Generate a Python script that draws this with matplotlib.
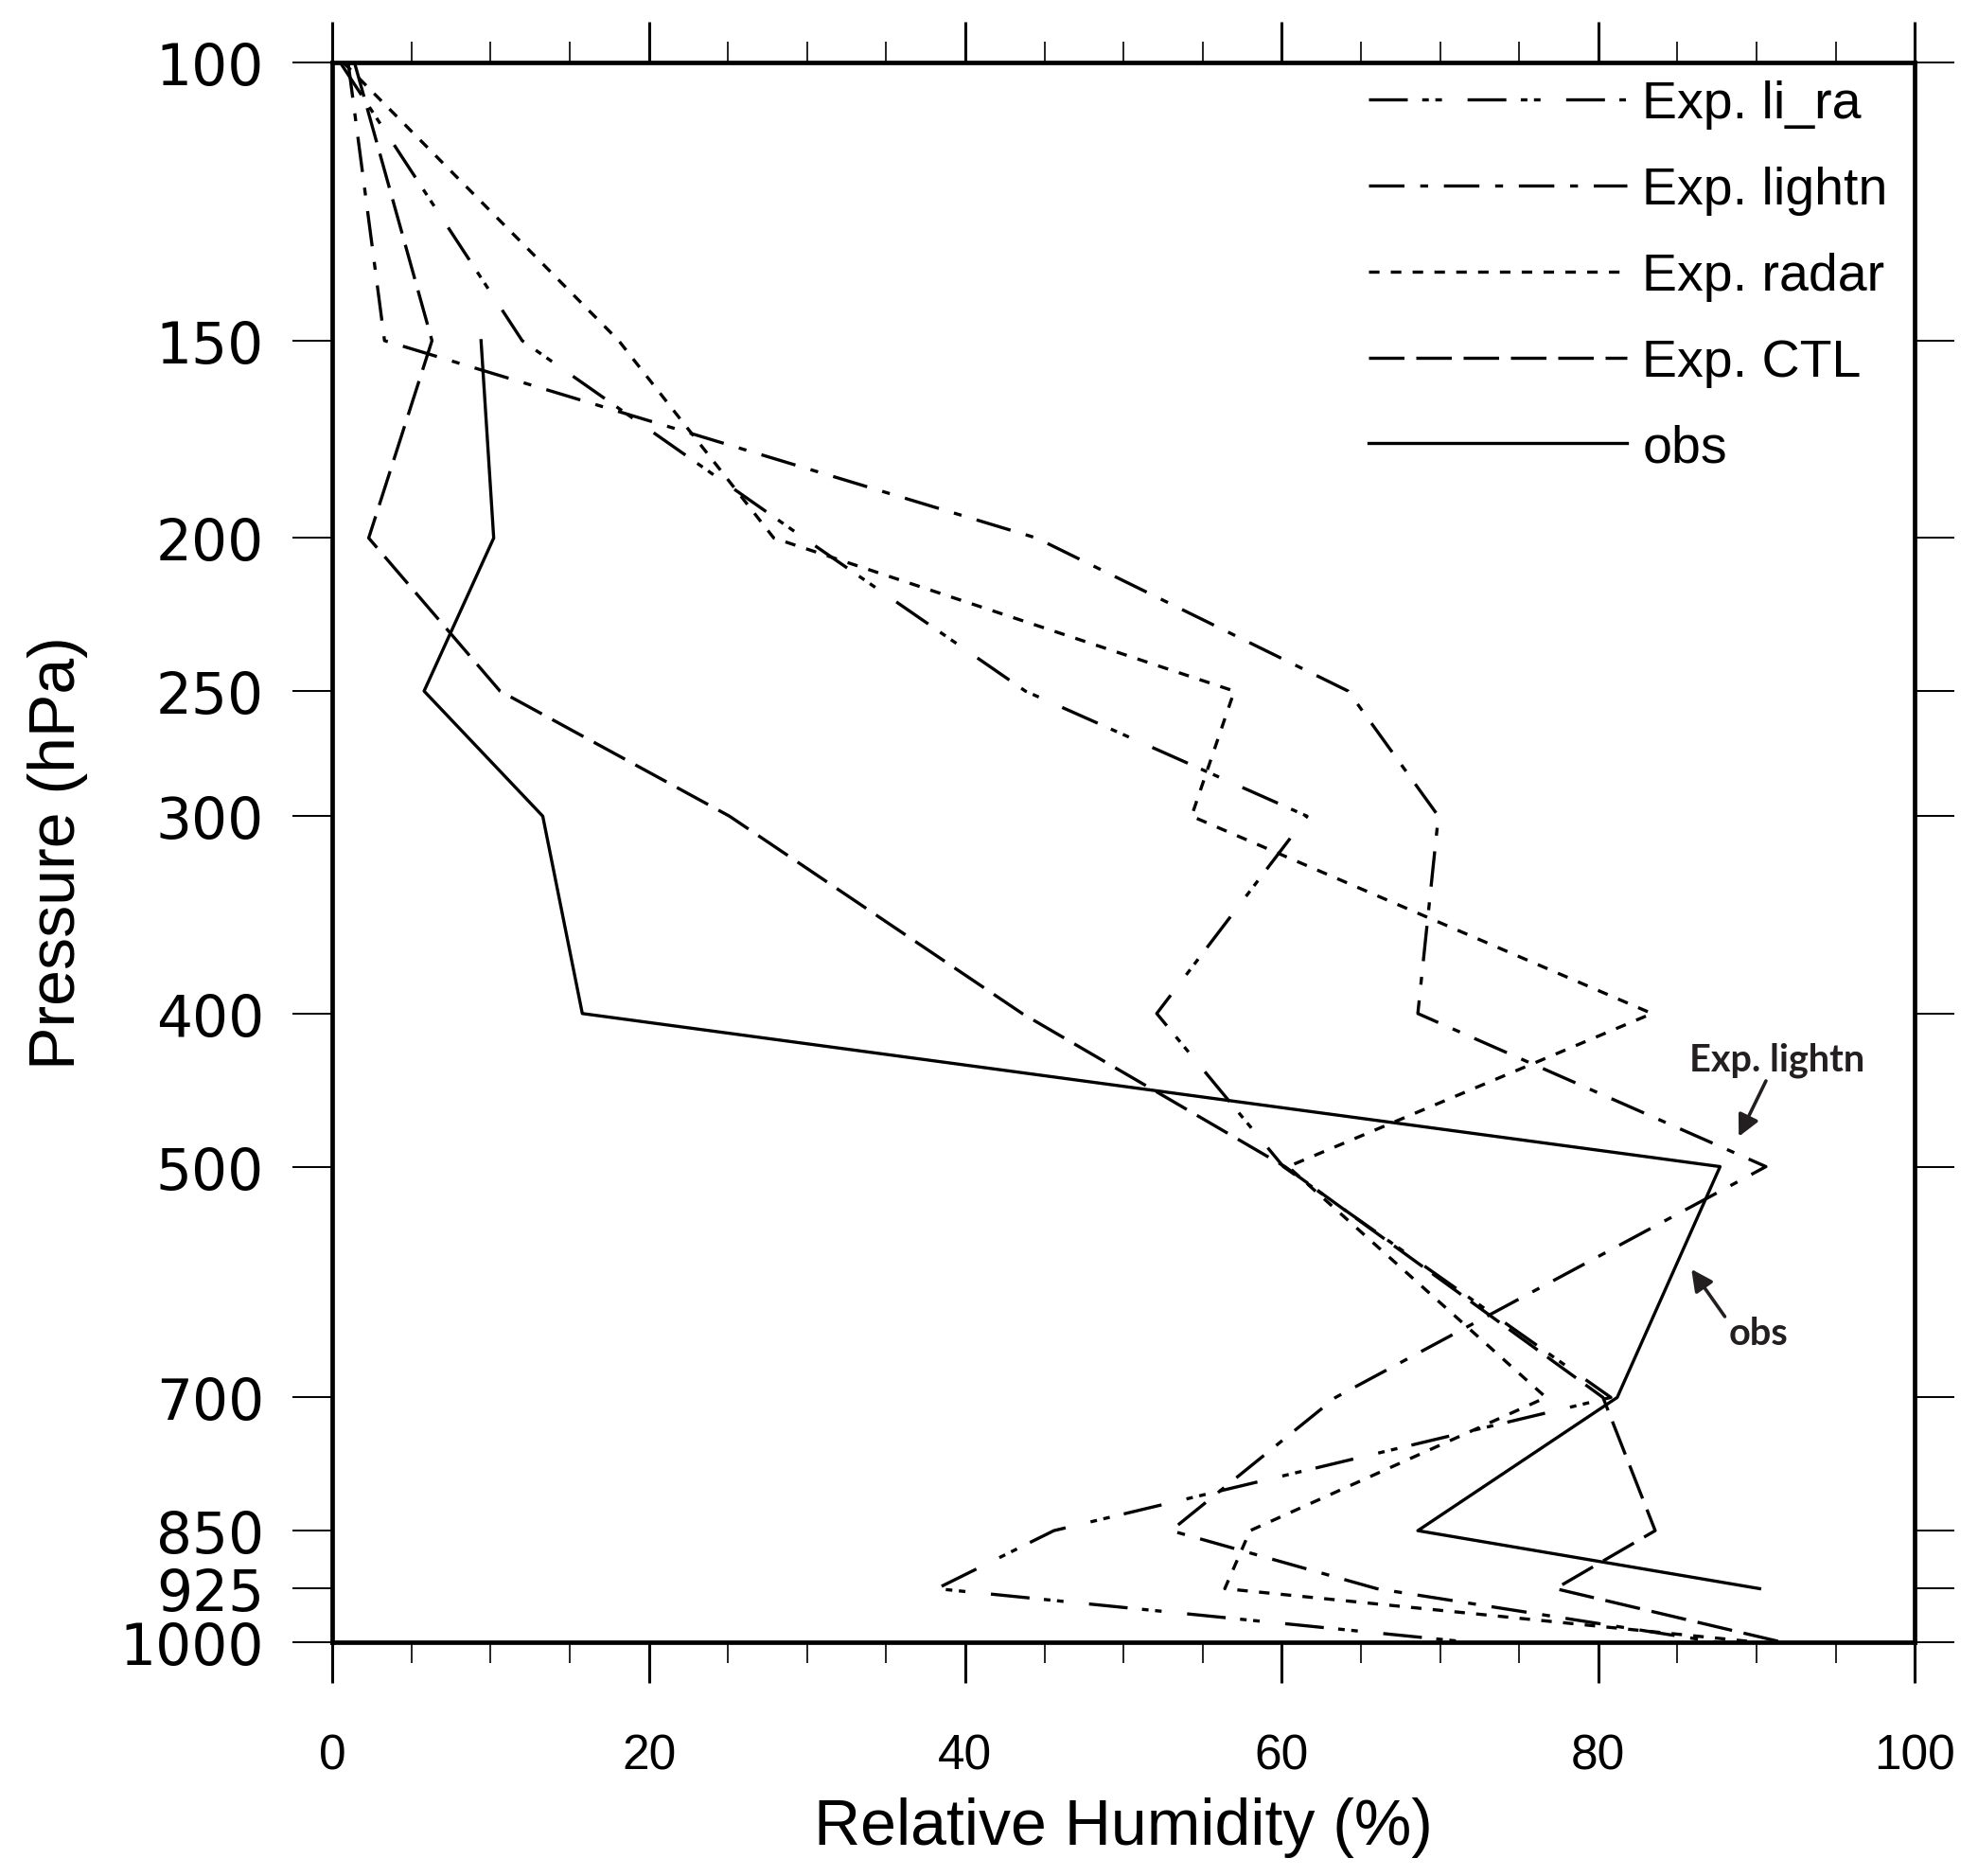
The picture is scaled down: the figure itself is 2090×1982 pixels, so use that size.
import matplotlib
matplotlib.use("Agg")
import matplotlib.pyplot as plt
from matplotlib.ticker import FixedLocator, MultipleLocator, NullLocator

# ---------------- data ----------------
levels = [100, 150, 200, 250, 300, 400, 500, 700, 850, 925, 1000]
obs_levels = [150, 200, 250, 300, 400, 500, 700, 850, 925]

rh_li_ra = [0.5, 12.0, 29.8, 43.8, 61.6, 52.1, 60.1, 80.8, 45.6, 38.2, 71.8]
rh_lightn = [1.0, 3.3, 44.5, 64.2, 69.9, 68.6, 90.6, 63.4, 53.0, 66.0, 87.5]
rh_radar = [0.7, 18.1, 27.9, 57.0, 54.3, 83.4, 60.4, 76.7, 58.0, 56.4, 90.0]
rh_ctl = [1.4, 6.3, 2.3, 10.6, 25.1, 43.6, 60.2, 80.3, 83.6, 77.3, 91.6]
rh_obs = [9.4, 10.2, 5.8, 13.3, 15.8, 87.7, 81.2, 68.6, 90.2]

series_labels = ["Exp. li_ra", "Exp. lightn", "Exp. radar", "Exp. CTL", "obs"]
ytick_vals = [100, 150, 200, 250, 300, 400, 500, 700, 850, 925, 1000]
ytick_labels = ["100", "150", "200", "250", "300", "400", "500", "700", "850", "925", "1000"]
xtick_vals = [0, 20, 40, 60, 80, 100]

# ---------------- style ----------------
plt.rcParams["font.family"] = ["Liberation Sans", "DejaVu Sans"]
plt.rcParams["lines.scale_dashes"] = False

fig = plt.figure(figsize=(20.9, 19.83), dpi=100)
ax = fig.add_axes([0.168, 0.1246, 0.800, 0.8416])

lw = 2.4
col = "black"
dash_li_ra = (0, (29.5, 11, 5, 5, 5, 19.5))
dash_lightn = (0, (27, 12, 6, 12))
dash_radar = (0, (8, 8.6))
dash_ctl = (0, (27, 9))

ax.plot(rh_li_ra, levels, color=col, lw=lw, linestyle=dash_li_ra, label=series_labels[0])
ax.plot(rh_lightn, levels, color=col, lw=lw, linestyle=dash_lightn, label=series_labels[1])
ax.plot(rh_radar, levels, color=col, lw=lw, linestyle=dash_radar, label=series_labels[2])
ax.plot(rh_ctl, levels, color=col, lw=lw, linestyle=dash_ctl, label=series_labels[3])
ax.plot(rh_obs, obs_levels, color=col, lw=lw, linestyle="-", label=series_labels[4])

ax.set_yscale("log")
ax.set_ylim(1000, 100)
ax.set_xlim(0, 100)

ax.yaxis.set_major_locator(FixedLocator(ytick_vals))
ax.yaxis.set_minor_locator(NullLocator())
ax.set_yticklabels(ytick_labels, family=["DejaVu Sans"])
ax.xaxis.set_major_locator(FixedLocator(xtick_vals))
ax.xaxis.set_minor_locator(MultipleLocator(5))

for sp in ax.spines.values():
    sp.set_linewidth(3.4)

ax.tick_params(axis="x", which="major", direction="out", length=31, width=2.2,
               top=True, bottom=True, labelsize=37, pad=38)
ax.tick_params(axis="x", which="minor", direction="out", length=16, width=1.2,
               top=True, bottom=True)
ax.tick_params(axis="y", which="major", direction="out", length=30, width=1.4,
               left=True, right=True, labelsize=43, pad=22)

ax.set_xlabel("Relative Humidity (%)", fontsize=49, labelpad=13)
ax.set_ylabel("Pressure (hPa)", fontsize=49, labelpad=24)

leg = ax.legend(loc="upper left", bbox_to_anchor=(0.655, 0.989), frameon=False,
                fontsize=40, handlelength=4.9, handletextpad=0.3,
                labelspacing=0.70, borderpad=0, borderaxespad=0)

ann_color = "#231f20"
ann_font = ["Lato", "DejaVu Sans"]
ax.text(0.913, 0.369, "Exp. lightn", transform=ax.transAxes, ha="center", va="center",
        fontsize=28.5, fontweight="bold", family=ann_font, color=ann_color)
ax.text(0.901, 0.1955, "obs", transform=ax.transAxes, ha="center", va="center",
        fontsize=28.5, fontweight="bold", family=ann_font, color=ann_color)
ax.annotate("", xy=(0.8888, 0.3200), xytext=(0.906, 0.3553),
            xycoords="axes fraction", textcoords="axes fraction",
            arrowprops=dict(arrowstyle="-|>", lw=2.6, color=ann_color,
                            mutation_scale=34, shrinkA=0, shrinkB=0))
ax.annotate("", xy=(0.8589, 0.2361), xytext=(0.880, 0.2061),
            xycoords="axes fraction", textcoords="axes fraction",
            arrowprops=dict(arrowstyle="-|>", lw=2.6, color=ann_color,
                            mutation_scale=34, shrinkA=0, shrinkB=0))

fig.savefig("out.png", dpi=100, facecolor="white")
